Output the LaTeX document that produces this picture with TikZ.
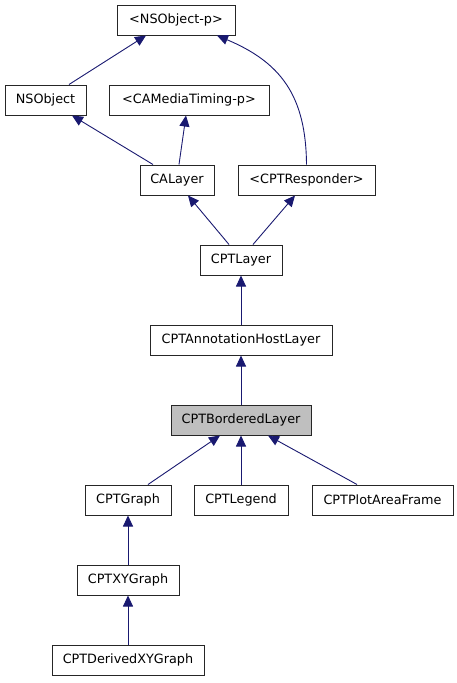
\documentclass[tikz,border=0pt]{standalone}
\usepackage{fontspec}
\setmainfont{DejaVu Sans}
\usetikzlibrary{arrows.meta}
\definecolor{edgeblue}{HTML}{191970}
\definecolor{boxgray}{HTML}{BFBFBF}
\tikzset{
  cls/.style={draw=black!85, line width=1pt, fill=white, inner sep=0pt,
    minimum height=30pt, font=\fontsize{12.8}{14}\selectfont},
  hl/.style={cls, fill=boxgray},
  edge/.style={draw=edgeblue, line width=0.9pt,
    -{Triangle[length=11pt,width=10pt,fill=edgeblue]}}
}
\begin{document}
\begin{tikzpicture}[x=1pt,y=-1pt]
\useasboundingbox (0,0) rectangle (457,683);
\node[cls, minimum width=118pt] (nsp) at (176,20) {<NSObject-p>};
\node[cls, minimum width=81pt] (nsobj) at (45.5,100) {NSObject};
\node[cls, minimum width=160pt] (camt) at (189,100) {<CAMediaTiming-p>};
\node[cls, minimum width=74pt] (calayer) at (177,180) {CALayer};
\node[cls, minimum width=137pt] (resp) at (306.5,180) {<CPTResponder>};
\node[cls, minimum width=82pt] (cptlayer) at (241,260) {CPTLayer};
\node[cls, minimum width=182pt] (annot) at (241,340) {CPTAnnotationHostLayer};
\node[hl, minimum width=140pt] (border) at (241,420) {CPTBorderedLayer};
\node[cls, minimum width=86pt] (graph) at (128,500) {CPTGraph};
\node[cls, minimum width=94pt] (legend) at (241,500) {CPTLegend};
\node[cls, minimum width=141pt] (plot) at (382.5,500) {CPTPlotAreaFrame};
\node[cls, minimum width=102pt] (xy) at (128,580) {CPTXYGraph};
\node[cls, minimum width=152pt] (derived) at (128,660) {CPTDerivedXYGraph};

\draw[edge] ([xshift=23.5pt]nsobj.north) -- ([xshift=-30pt]nsp.south);
\draw[edge] ([xshift=-24pt]calayer.north) -- ([xshift=26.5pt]nsobj.south);
\draw[edge] ([xshift=2pt]calayer.north) -- ([xshift=-3pt]camt.south);
\draw[edge] (resp.north) .. controls (306,95) and (280,62) .. ([xshift=41pt]nsp.south);
\draw[edge] ([xshift=-12pt]cptlayer.north) -- ([xshift=11pt]calayer.south);
\draw[edge] ([xshift=12pt]cptlayer.north) -- ([xshift=-11.5pt]resp.south);
\draw[edge] (annot) -- (cptlayer);
\draw[edge] (border) -- (annot);
\draw[edge] ([xshift=20pt]graph.north) -- ([xshift=-21pt]border.south);
\draw[edge] (legend) -- (border);
\draw[edge] ([xshift=-25.5pt]plot.north) -- ([xshift=27pt]border.south);
\draw[edge] (xy) -- (graph);
\draw[edge] (derived) -- (xy);
\end{tikzpicture}
\end{document}
